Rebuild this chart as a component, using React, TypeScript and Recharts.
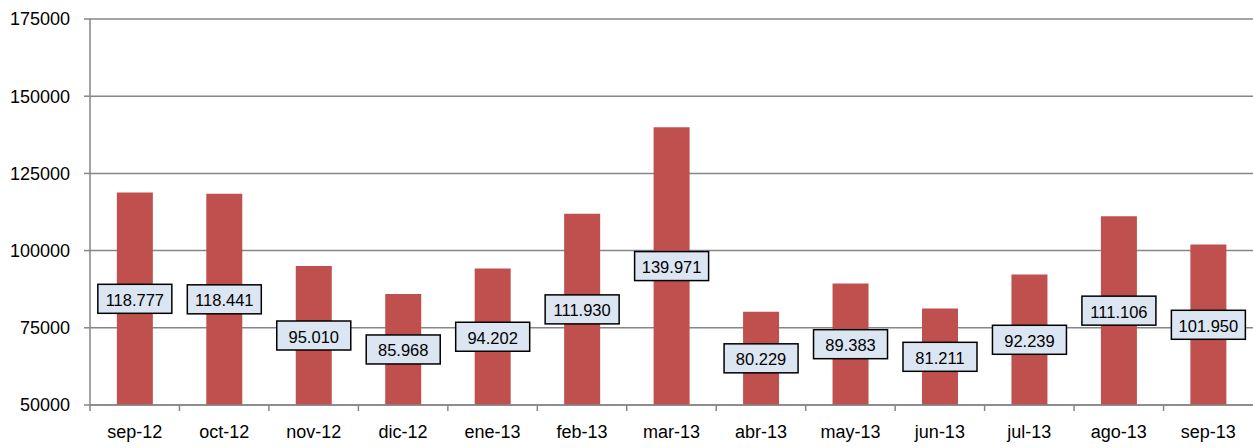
import { BarChart, Bar, XAxis, YAxis, CartesianGrid, LabelList } from "recharts";

const months = ["sep-12", "oct-12", "nov-12", "dic-12", "ene-13", "feb-13", "mar-13", "abr-13", "may-13", "jun-13", "jul-13", "ago-13", "sep-13"];
const values = [118777, 118441, 95010, 85968, 94202, 111930, 139971, 80229, 89383, 81211, 92239, 111106, 101950];
const yTicks = [50000, 75000, 100000, 125000, 150000, 175000];

const data = months.map((m, i) => ({ month: m, value: values[i] }));

const FONT = "'Liberation Sans', Arial, sans-serif";
const W = 1253;
const H = 448;
const PLOT_LEFT = 90;
const BAND = (W - PLOT_LEFT) / months.length;

// 118777 -> "118.777"
function fmt(v: number) {
  return String(v).replace(/\B(?=(\d{3})+(?!\d))/g, ".");
}

function MonthTick(props: any) {
  const { x, y, payload } = props;
  const left = x - BAND / 2;
  return (
    <g>
      <line x1={left} x2={left} y1={y - 8} y2={y - 2} stroke="#868686" strokeWidth={1.5} />
      <text x={x} y={y + 19} textAnchor="middle" dominantBaseline="central" fontSize={18} fontFamily={FONT} fill="#000">
        {payload.value}
      </text>
    </g>
  );
}

function BoxLabel(props: any) {
  const { x, y, width, height, value } = props;
  const cx = x + width / 2;
  const cy = y + height / 2;
  const bw = 74;
  const bh = 29;
  return (
    <g>
      <rect x={cx - bw / 2} y={cy - bh / 2} width={bw} height={bh} fill="#DCE6F2" stroke="#000" strokeWidth={1.5} />
      <text x={cx} y={cy + 1} textAnchor="middle" dominantBaseline="central" fontSize={16.5} fontFamily={FONT} fill="#000">
        {fmt(value)}
      </text>
    </g>
  );
}

export default function App() {
  return (
    <div style={{ position: "absolute", left: 0, top: 0, width: W, height: H, background: "#fff" }}>
      <BarChart width={W} height={H} data={data} margin={{ top: 19, right: 0, bottom: 0, left: 0 }} barCategoryGap="30%">
        <CartesianGrid vertical={false} stroke="#868686" strokeWidth={1.5} />
        <XAxis
          dataKey="month"
          axisLine={{ stroke: "#868686", strokeWidth: 1.5 }}
          tickLine={false}
          tickSize={6}
          tickMargin={2}
          tick={<MonthTick />}
          interval={0}
          height={43}
        />
        <YAxis
          domain={[50000, 175000]}
          ticks={yTicks}
          width={PLOT_LEFT}
          axisLine={{ stroke: "#868686", strokeWidth: 1.5 }}
          tickLine={{ stroke: "#868686", strokeWidth: 1.5 }}
          tickSize={6}
          tickMargin={14}
          tick={{ fontSize: 18, fontFamily: FONT, fill: "#000" }}
          allowDataOverflow
        />
        <Bar dataKey="value" fill="#C0504D" isAnimationActive={false}>
          <LabelList dataKey="value" content={<BoxLabel />} />
        </Bar>
      </BarChart>
    </div>
  );
}
